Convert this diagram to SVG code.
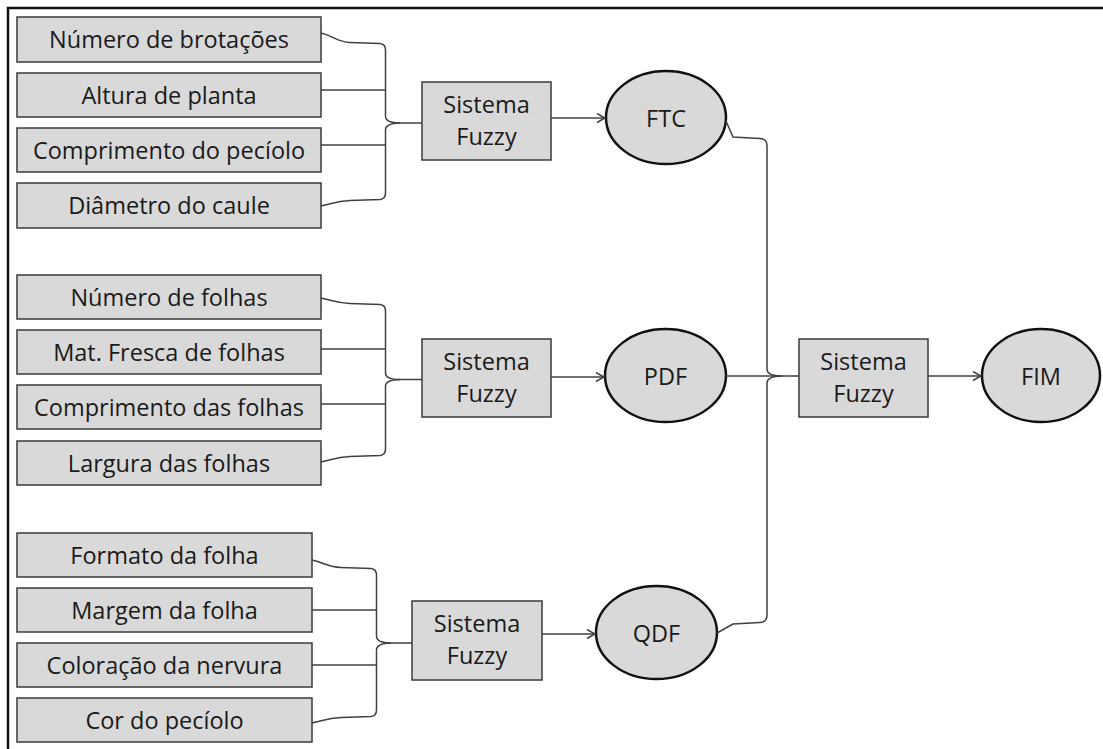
<svg xmlns="http://www.w3.org/2000/svg" width="1103" height="749" viewBox="0 0 1103 749">
<style>
.box{fill:#d9d9d9;stroke:#3a3a3a;stroke-width:1.5}
.ell{fill:#d9d9d9;stroke:#111;stroke-width:2.5}
.t{font-family:"Open Sans","Liberation Sans",sans-serif;font-size:23.5px;fill:#1a1a1a;text-anchor:middle}
.c{fill:none;stroke:#404040;stroke-width:1.5}
.frame{fill:none;stroke:#111;stroke-width:2.5}
</style>
<defs>
<marker id="arr" markerUnits="userSpaceOnUse" markerWidth="12" markerHeight="12" refX="9" refY="5" orient="auto">
<path d="M1,0.5 L9,5 L1,9.5" fill="none" stroke="#404040" stroke-width="1.5"/>
</marker>
</defs>
<rect width="1103" height="749" fill="#fff"/>
<path class="frame" d="M8,749 L8,8 L1103,8"/>

<g id="g1-n1"><rect class="box" x="17" y="17" width="304" height="45"/><text class="t" x="169" y="48">Número de brotações</text></g>
<g id="g1-n2"><rect class="box" x="17" y="73" width="304" height="44"/><text class="t" x="169" y="103.5">Altura de planta</text></g>
<g id="g1-n3"><rect class="box" x="17" y="128" width="304" height="44"/><text class="t" x="169" y="158.5">Comprimento do pecíolo</text></g>
<g id="g1-n4"><rect class="box" x="17" y="183" width="304" height="45"/><text class="t" x="169" y="214">Diâmetro do caule</text></g>

<g id="g2-n1"><rect class="box" x="17" y="275" width="304" height="44"/><text class="t" x="169" y="305.5">Número de folhas</text></g>
<g id="g2-n2"><rect class="box" x="17" y="330" width="304" height="44"/><text class="t" x="169" y="360.5">Mat. Fresca de folhas</text></g>
<g id="g2-n3"><rect class="box" x="17" y="385" width="304" height="44"/><text class="t" x="169" y="415.5">Comprimento das folhas</text></g>
<g id="g2-n4"><rect class="box" x="17" y="441" width="304" height="44"/><text class="t" x="169" y="471.5">Largura das folhas</text></g>

<g id="g3-n1"><rect class="box" x="17" y="533" width="295" height="44"/><text class="t" x="164.5" y="563.5">Formato da folha</text></g>
<g id="g3-n2"><rect class="box" x="17" y="588" width="295" height="44"/><text class="t" x="164.5" y="618.5">Margem da folha</text></g>
<g id="g3-n3"><rect class="box" x="17" y="643" width="295" height="44"/><text class="t" x="164.5" y="673.5">Coloração da nervura</text></g>
<g id="g3-n4"><rect class="box" x="17" y="698" width="295" height="44"/><text class="t" x="164.5" y="728.5">Cor do pecíolo</text></g>

<g id="fuzzy1"><rect class="box" x="422" y="82" width="129" height="78"/><text class="t" x="486.5" y="113">Sistema</text><text class="t" x="486.5" y="145">Fuzzy</text></g>
<g id="fuzzy2"><rect class="box" x="422" y="339" width="129" height="78"/><text class="t" x="486.5" y="370">Sistema</text><text class="t" x="486.5" y="402">Fuzzy</text></g>
<g id="fuzzy3"><rect class="box" x="412" y="601" width="130" height="79"/><text class="t" x="477" y="632">Sistema</text><text class="t" x="477" y="664">Fuzzy</text></g>
<g id="fuzzy-main"><rect class="box" x="799" y="339" width="129" height="78"/><text class="t" x="863.5" y="370">Sistema</text><text class="t" x="863.5" y="402">Fuzzy</text></g>

<g id="ftc"><ellipse class="ell" cx="666" cy="117.5" rx="60" ry="46.5"/><text class="t" x="666" y="127">FTC</text></g>
<g id="pdf"><ellipse class="ell" cx="665.5" cy="375.5" rx="60.5" ry="46.5"/><text class="t" x="665.5" y="385">PDF</text></g>
<g id="qdf"><ellipse class="ell" cx="656.5" cy="632.5" rx="60.5" ry="46.5"/><text class="t" x="656.5" y="642">QDF</text></g>
<g id="fim"><ellipse class="ell" cx="1041" cy="375.5" rx="59" ry="46.5"/><text class="t" x="1041" y="385">FIM</text></g>

<g id="connectors">
<path class="c" d="M321,33 C334,36 337,42 350,42.5 L380,43.5 Q385.5,44 385.5,50 L385.5,116 Q385.5,123 400,123 L422,123"/>
<path class="c" d="M321,90 L385.5,90"/>
<path class="c" d="M321,145 L385.5,145"/>
<path class="c" d="M321,206 C334,203 337,201 350,200.5 L380,199.5 Q385.5,199 385.5,193 L385.5,130 Q385.5,123.5 400,123"/>

<path class="c" d="M321,298 C334,301 337,303 350,303.5 L380,304.5 Q385.5,305 385.5,311 L385.5,373 Q385.5,379.5 400,379.5 L422,379.5"/>
<path class="c" d="M321,349 L385.5,349"/>
<path class="c" d="M321,404 L385.5,404"/>
<path class="c" d="M321,462 C334,459 337,457 350,456.5 L380,455.5 Q385.5,455 385.5,449 L385.5,386 Q385.5,380 400,379.5"/>

<path class="c" d="M312,560 C325,563 328,567 341,567.5 L371,568.5 Q376.5,569 376.5,575 L376.5,636 Q376.5,643 391,643 L412,643"/>
<path class="c" d="M312,610 L376.5,610"/>
<path class="c" d="M312,665 L376.5,665"/>
<path class="c" d="M312,723 C325,720 328,718 341,717.5 L371,716.5 Q376.5,716 376.5,710 L376.5,650 Q376.5,643.5 391,643"/>

<path class="c" d="M551,118 L605,118" marker-end="url(#arr)"/>
<path class="c" d="M551,377 L604,377" marker-end="url(#arr)"/>
<path class="c" d="M542,634 L595,634" marker-end="url(#arr)"/>
<path class="c" d="M928,376 L981,376" marker-end="url(#arr)"/>

<path class="c" d="M726,121 L733,137 L760,138.5 Q767,139 767,146 L767,369 Q767,376 782,376"/>
<path class="c" d="M726,376 L799,376"/>
<path class="c" d="M717,633 L733,624 L760,622.5 Q767,622 767,615 L767,383 Q767,376.5 782,376"/>
</g>
</svg>
